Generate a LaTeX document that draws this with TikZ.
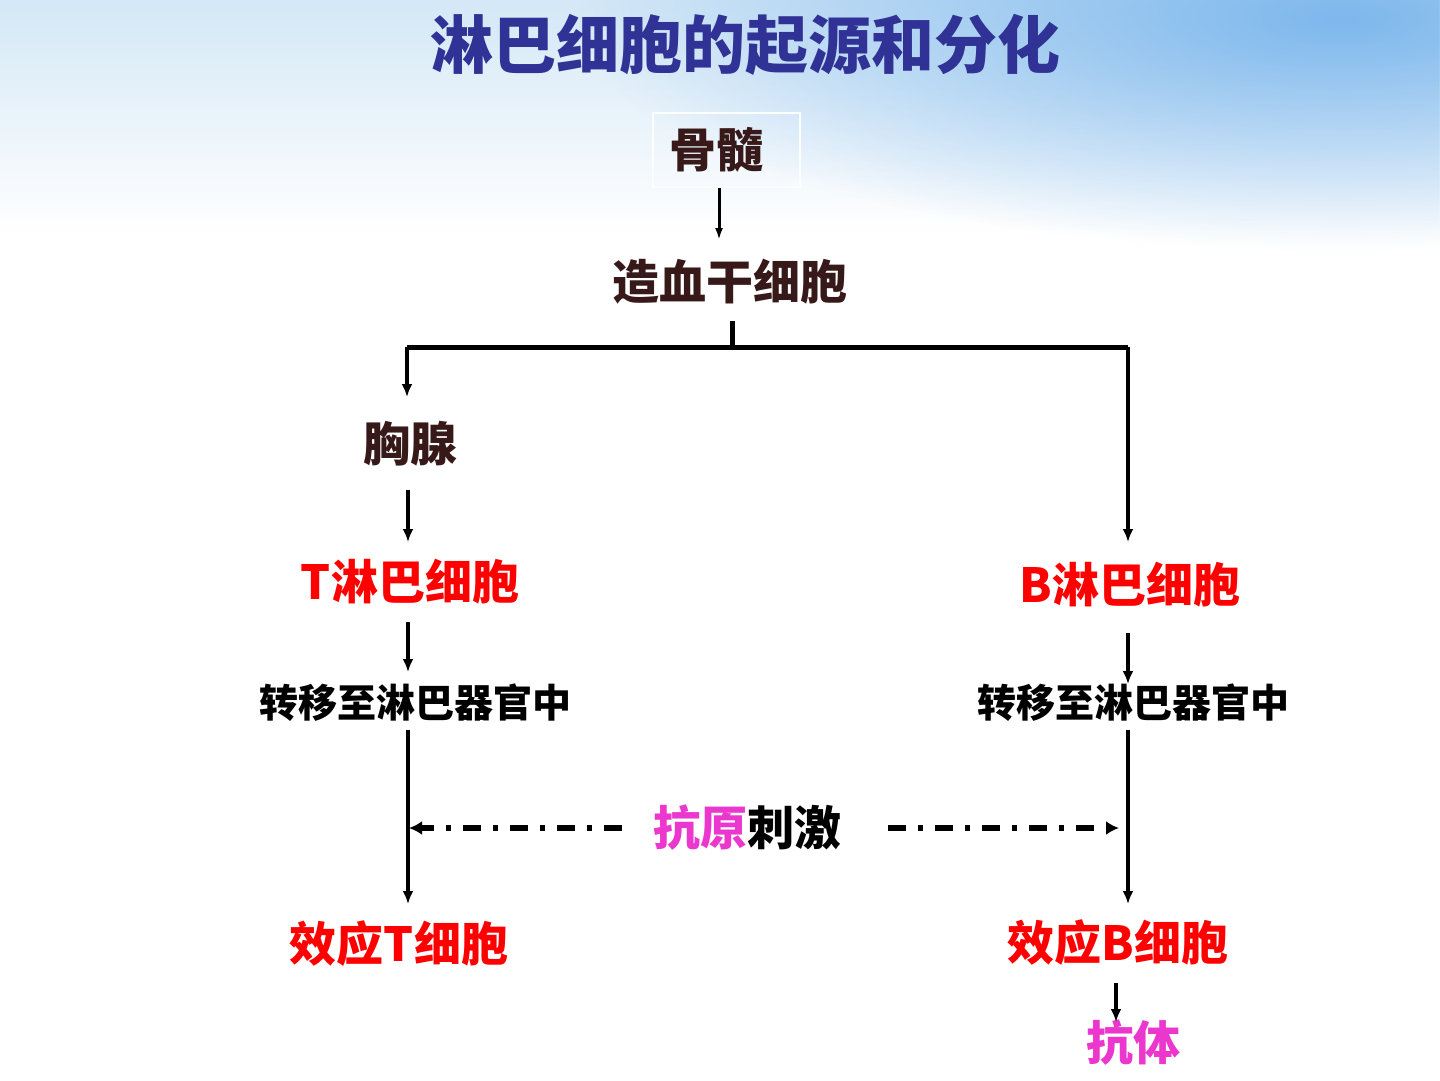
\documentclass[tikz,border=0pt]{standalone}
\usepackage{fontspec}
\newfontfamily\cjk{Noto Sans CJK SC}
\usetikzlibrary{arrows.meta,fadings}
\tikzfading[name=myfade, inner color=transparent!0, outer color=transparent!100]
\definecolor{titleblue}{RGB}{48,50,150}
\definecolor{darkbrown}{RGB}{55,25,25}
\definecolor{pinkm}{RGB}{235,55,205}
\definecolor{skyA}{RGB}{212,232,247}
\definecolor{skyB}{RGB}{110,175,235}
\tikzset{
  lbl/.style={inner sep=0pt, font=\cjk\bfseries\fontsize{47}{50}\selectfont, text=darkbrown},
  redlbl/.style={lbl, text=red},
  smalllbl/.style={inner sep=0pt, font=\cjk\bfseries\fontsize{39}{42}\selectfont, text=black},
  conn/.style={line width=4.5pt, -{Latex[length=13pt,width=11pt]}},
  bar/.style={line width=5pt},
  dd/.style={line width=6pt, dash pattern=on 18pt off 12pt on 5pt off 12pt, -{Latex[length=13pt,width=14pt]}}
}
\begin{document}
\begin{tikzpicture}[x=1pt,y=-1pt]
\useasboundingbox (0,0) rectangle (1440,1080);
% background
\fill[white] (0,0) rectangle (1440,1080);
\fill[skyA, path fading=south] (0,0) rectangle (1440,230);
\fill[skyB, path fading=myfade, opacity=0.85] (1340,20) ellipse (760pt and 230pt);
% title
\node[inner sep=0pt, font=\cjk\bfseries\fontsize{63}{66}\selectfont, text=titleblue] (title) at (745,45) {淋巴细胞的起源和分化};
% nodes
\node[lbl, draw=white!90!skyA, line width=2pt, minimum width=147pt, minimum height=74pt] (gs) at (726,150) {\hspace*{-20pt}骨髓};
\node[lbl] (zx) at (730,282) {造血干细胞};
\node[lbl] (xx) at (410,444) {胸腺};
\node[redlbl] (tl) at (410,582) {T淋巴细胞};
\node[smalllbl] (tz) at (415,703) {转移至淋巴器官中};
\node[redlbl] (bl) at (1130,585) {B淋巴细胞};
\node[smalllbl] (bz) at (1133,703) {转移至淋巴器官中};
\node[lbl, text=black] (ky) at (747,828) {\textcolor{pinkm}{抗原}刺激};
\node[redlbl] (xt) at (399,944) {效应T细胞};
\node[redlbl] (xb) at (1118,943) {效应B细胞};
\node[lbl, text=pinkm] (kt) at (1133,1043) {抗体};
% coordinates
\coordinate (a1) at (719,188);
\coordinate (a2) at (719,240);
\coordinate (s1) at (732,321);
\coordinate (jn) at (732,347);
\coordinate (hl) at (407,347);
\coordinate (hr) at (1128,347);
\coordinate (xxt) at (407,397);
\coordinate (blt) at (1128,542);
\coordinate (l1) at (408,490); \coordinate (l2) at (408,542);
\coordinate (l3) at (408,622); \coordinate (l4) at (408,672);
\coordinate (l5) at (408,730); \coordinate (l6) at (408,904);
\coordinate (r3) at (1128,633); \coordinate (r4) at (1128,684);
\coordinate (r5) at (1128,730); \coordinate (r6) at (1128,904);
\coordinate (b1) at (1116,983); \coordinate (b2) at (1116,1022);
\coordinate (dl0) at (622,828); \coordinate (dl1) at (409,828);
\coordinate (dr0) at (888,828); \coordinate (dr1) at (1119,828);
% connectors
\draw[line width=3pt, -{Latex[length=12pt,width=8pt]}] (a1) -- (a2);
\draw[bar] (s1) -- (jn);
\draw[bar] (hl) -- (hr);
\draw[conn] (hl) -- (xxt);
\draw[conn] (hr) -- (blt);
\draw[conn] (l1) -- (l2);
\draw[conn] (l3) -- (l4);
\draw[conn] (l5) -- (l6);
\draw[conn] (r3) -- (r4);
\draw[conn] (r5) -- (r6);
\draw[conn] (b1) -- (b2);
\draw[dd] (dl0) -- (dl1);
\draw[dd] (dr0) -- (dr1);
\end{tikzpicture}
\end{document}
